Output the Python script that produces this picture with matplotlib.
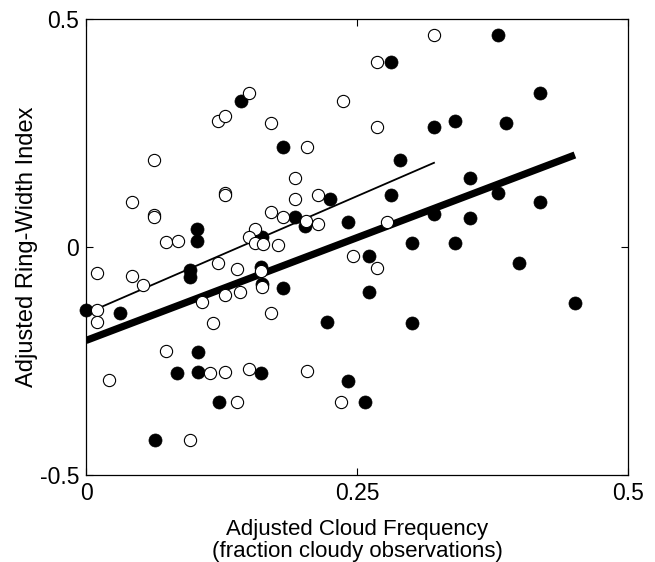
import numpy as np
import matplotlib
matplotlib.use('Agg')
import matplotlib.pyplot as plt

plt.rcParams['font.family'] = ['Liberation Sans', 'DejaVu Sans']

# open circles
open_x = [0.150, 0.122, 0.128, 0.171, 0.237, 0.204, 0.063, 0.193, 0.128, 0.128,
          0.042, 0.193, 0.214, 0.063, 0.063, 0.171, 0.182, 0.203, 0.214, 0.074,
          0.085, 0.156, 0.150, 0.156, 0.163, 0.177, 0.010, 0.042, 0.053, 0.010,
          0.010, 0.122, 0.139, 0.161, 0.162, 0.142, 0.128, 0.107, 0.117, 0.171,
          0.074, 0.021, 0.114, 0.128, 0.150, 0.204, 0.139, 0.235, 0.096, 0.246,
          0.268, 0.321, 0.268, 0.268, 0.278]
open_y = [0.338, 0.276, 0.287, 0.273, 0.320, 0.220, 0.191, 0.151, 0.118, 0.113,
          0.099, 0.105, 0.114, 0.070, 0.065, 0.077, 0.066, 0.056, 0.050, 0.012,
          0.013, 0.039, 0.022, 0.008, 0.007, 0.004, -0.056, -0.063, -0.084, -0.138,
          -0.164, -0.034, -0.049, -0.053, -0.088, -0.099, -0.105, -0.121, -0.166, -0.145,
          -0.228, -0.292, -0.276, -0.275, -0.268, -0.272, -0.341, -0.341, -0.424, -0.019,
          -0.045, 0.465, 0.405, 0.263, 0.055]

# filled circles
fill_x = [0.000, 0.031, 0.102, 0.102, 0.096, 0.096, 0.143, 0.182, 0.225, 0.193,
          0.202, 0.242, 0.162, 0.161, 0.162, 0.182, 0.222, 0.103, 0.084, 0.103,
          0.161, 0.123, 0.064, 0.242, 0.380, 0.281, 0.419, 0.321, 0.340, 0.387,
          0.290, 0.354, 0.281, 0.380, 0.419, 0.321, 0.354, 0.301, 0.340, 0.261,
          0.399, 0.261, 0.451, 0.301, 0.257]
fill_y = [-0.138, -0.145, 0.039, 0.013, -0.050, -0.066, 0.320, 0.220, 0.105, 0.066,
          0.045, 0.054, 0.023, -0.044, -0.081, -0.091, -0.164, -0.230, -0.276, -0.274,
          -0.276, -0.341, -0.424, -0.293, 0.465, 0.405, 0.338, 0.263, 0.276, 0.273,
          0.191, 0.151, 0.114, 0.119, 0.099, 0.072, 0.063, 0.009, 0.009, -0.019,
          -0.034, -0.099, -0.122, -0.166, -0.341]

# fitted lines (intercept, slope)
open_fit = [-0.146, 1.03]
fill_fit = [-0.205, 0.902]

fig = plt.figure(figsize=(6.55, 5.62), dpi=100)
ax = fig.add_axes([0.1313, 0.1548, 0.8275, 0.8114])

ax.plot(fill_x, fill_y, 'o', ms=9.4, mfc='k', mec='k', mew=0.5, zorder=2, clip_on=False)
xo = np.array([min(open_x), max(open_x)])
ax.plot(xo, open_fit[0] + open_fit[1]*xo, 'k-', lw=1.3, zorder=3)
xf = np.array([min(fill_x), max(fill_x)])
ax.plot(xf, fill_fit[0] + fill_fit[1]*xf, 'k-', lw=5.2, zorder=3, solid_capstyle='butt')
ax.plot(open_x, open_y, 'o', ms=8.8, mfc='w', mec='k', mew=0.8, zorder=4, clip_on=False)

ax.set_xlim(0, 0.5)
ax.set_ylim(-0.5, 0.5)
ax.set_xticks([0, 0.25, 0.5])
ax.set_xticklabels(['0', '0.25', '0.5'])
ax.set_yticks([-0.5, 0, 0.5])
ax.set_yticklabels(['-0.5', '0', '0.5'])
ax.tick_params(direction='in', length=5, width=0.8, labelsize=16.5,
               top=True, right=True, pad=5)
for s in ax.spines.values():
    s.set_linewidth(0.9)

ax.set_xlabel('Adjusted Cloud Frequency\n(fraction cloudy observations)', fontsize=16,
              labelpad=10, linespacing=1.05)
ax.set_ylabel('Adjusted Ring-Width Index', fontsize=17, labelpad=1)

fig.savefig('out.png', dpi=100)
